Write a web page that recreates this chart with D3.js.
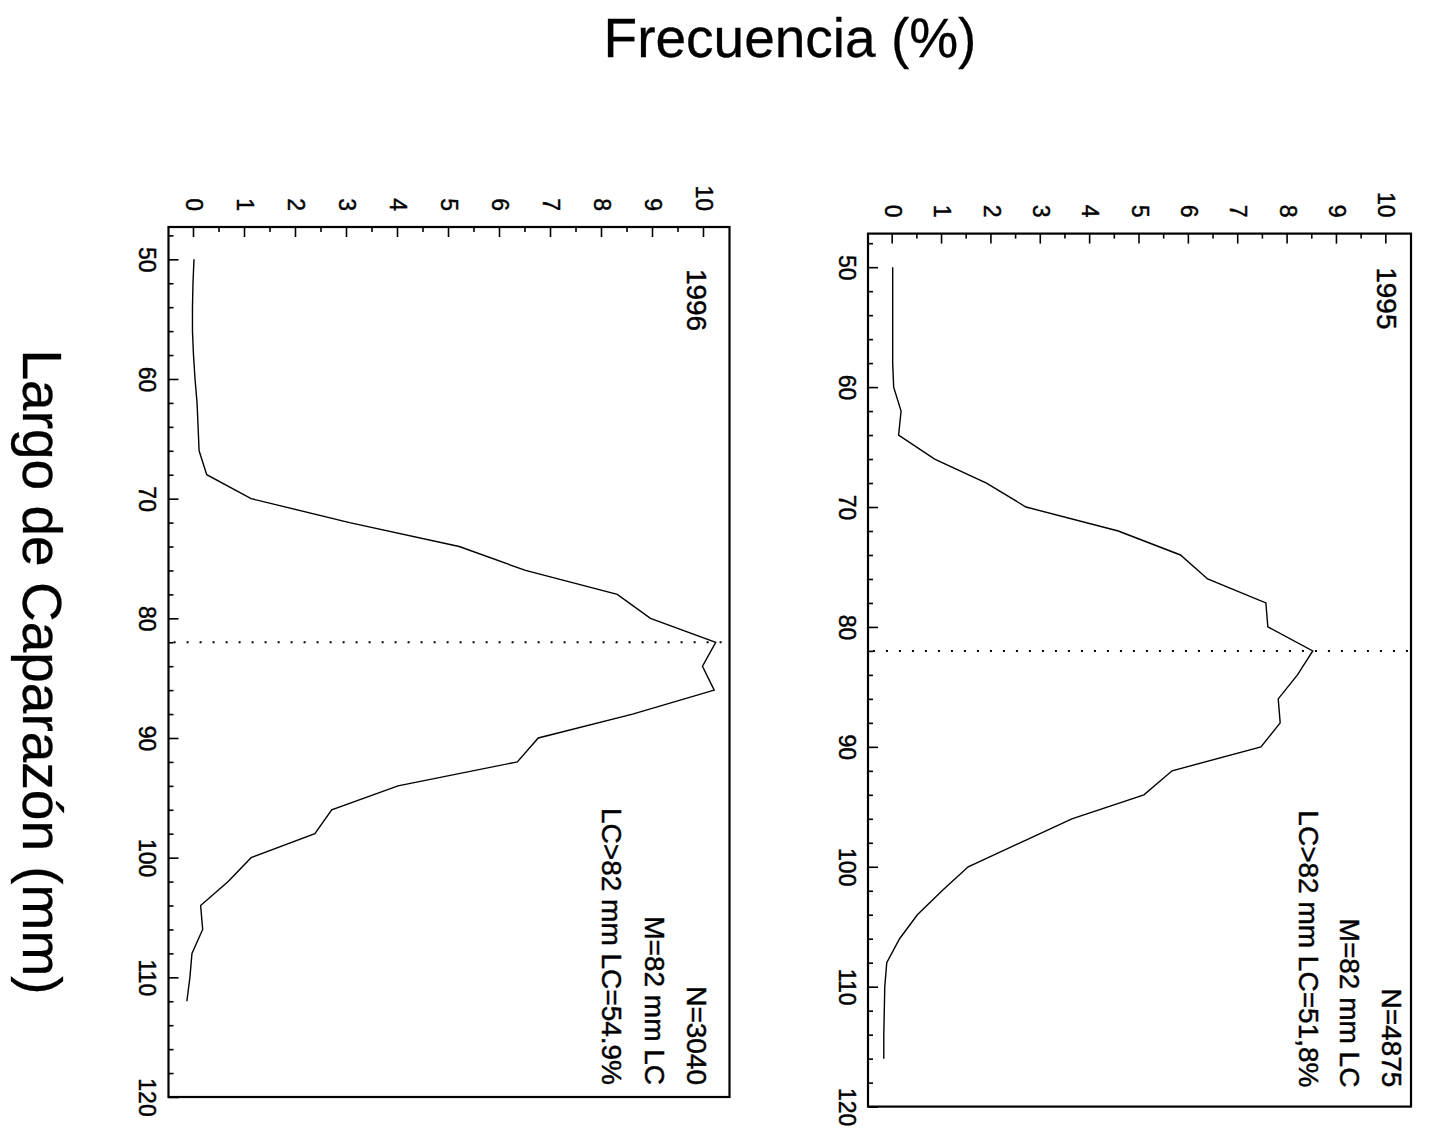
<!DOCTYPE html>
<html>
<head>
<meta charset="utf-8">
<script src="https://cdn.jsdelivr.net/npm/d3@7"></script>
<style>
  body { margin: 0; background: #fff; }
  svg { display: block; }
  text { font-family: "Liberation Sans", Arial, Helvetica, sans-serif; fill: #000; stroke: #000; stroke-width: 0.45px; }
</style>
</head>
<body>
<svg id="chart" width="1438" height="1132"></svg>
<script>
// Carapace-length frequency distributions (% of catch per 2 mm class)
const years = ["1995", "1996"];

const lengths1995 = [50, 52, 54, 56, 58, 60, 62, 64, 66, 68, 70, 72, 74, 76, 78, 80, 82,
                     84, 86, 88, 90, 92, 94, 96, 98, 100, 102, 104, 106, 108, 110, 112, 114, 116];
const freq1995 = [0.00, 0.00, 0.00, 0.00, 0.00, 0.02, 0.17, 0.12, 0.85, 1.90, 2.70, 4.57, 5.83, 6.38, 7.56, 7.60, 8.51,
                  8.20, 7.81, 7.85, 7.46, 5.66, 5.09, 3.63, 2.58, 1.53, 1.00, 0.50, 0.14, -0.12, -0.16, -0.17, -0.18, -0.18];

const lengths1996 = [50, 52, 54, 56, 58, 60, 62, 64, 66, 68, 70, 72, 74, 76, 78, 80, 82,
                     84, 86, 88, 90, 92, 94, 96, 98, 100, 102, 104, 106, 108, 110, 112];
const freq1996 = [0.00, -0.02, -0.03, -0.03, -0.01, 0.02, 0.06, 0.08, 0.10, 0.25, 1.12, 3.05, 5.20, 6.50, 8.30, 8.95, 10.23,
                  9.97, 10.20, 8.60, 6.75, 6.34, 4.00, 2.70, 2.37, 1.12, 0.67, 0.13, 0.17, -0.04, -0.08, -0.14];

const sampleSizes = ["N=4875", "N=3040"];
const modeTexts = ["M=82 mm LC", "M=82 mm LC"];
const aboveModeTexts = ["LC>82 mm LC=51,8%", "LC>82 mm LC=54.9%"];
const modeLength = 82;

const freqTicks = d3.range(0, 11);
const freqMinorTicks = d3.range(0.5, 10.5, 1);
const lengthTicks = [50, 60, 70, 80, 90, 100, 110, 120];
const lengthMinorTicks = d3.range(48, 120, 2).filter(v => v % 10 !== 0);

const series = [
  { year: years[0], lengths: lengths1995, freq: freq1995 },
  { year: years[1], lengths: lengths1996, freq: freq1996 }
];

// Each panel is laid out as an ordinary chart (length across, frequency up)
// and then turned a quarter turn clockwise.
const layout = [
  { right: 1411, top: 233.6, lenMin: 47.2, lenSpan: 873, freqSpan: 543,
    yearLen: 50.0, yearF: 10.0, endLen: 118.4, textF: [10.1, 9.25, 8.43] },
  { right: 729.5, top: 227, lenMin: 47.3, lenSpan: 870, freqSpan: 561,
    yearLen: 50.8, yearF: 9.86, endLen: 119.0, textF: [9.86, 9.02, 8.18] }
];

const svg = d3.select("#chart");

series.forEach((s, i) => {
  const L = layout[i];
  const W = L.lenSpan, H = L.freqSpan;
  const x = d3.scaleLinear().domain([L.lenMin, 120]).range([0, W]);
  const y = d3.scaleLinear().domain([-0.5, 10.5]).range([H, 0]);

  const g = svg.append("g")
    .attr("transform", `translate(${L.right},${L.top}) rotate(90)`);

  // frame
  g.append("rect")
    .attr("x", 0).attr("y", 0).attr("width", W).attr("height", H)
    .attr("fill", "none").attr("stroke", "#000").attr("stroke-width", 2.2);

  // frequency axis (major + minor ticks, pointing inward)
  g.append("g")
    .call(d3.axisLeft(y).tickValues(freqTicks).tickSizeInner(-10).tickSizeOuter(0).tickPadding(16));
  g.append("g")
    .call(d3.axisLeft(y).tickValues(freqMinorTicks).tickSizeInner(-5).tickSizeOuter(0).tickFormat(""));

  // length axis
  g.append("g").attr("transform", `translate(0,${H})`)
    .call(d3.axisBottom(x).tickValues(lengthTicks).tickSizeInner(-10).tickSizeOuter(0).tickPadding(13));
  g.append("g").attr("transform", `translate(0,${H})`)
    .call(d3.axisBottom(x).tickValues(lengthMinorTicks).tickSizeInner(-5).tickSizeOuter(0).tickFormat(""));

  g.selectAll(".domain").remove();
  g.selectAll(".tick line").attr("stroke", "#000").attr("stroke-width", 1.6);
  g.selectAll(".tick text").attr("font-size", 23).attr("fill", "#000")
    .style("font-family", '"Liberation Sans", Arial, sans-serif');

  // mode reference line
  g.append("line")
    .attr("x1", x(modeLength)).attr("x2", x(modeLength))
    .attr("y1", y(-0.4)).attr("y2", y(10.5))
    .attr("stroke", "#000").attr("stroke-width", 2)
    .attr("stroke-dasharray", "2 11");

  // distribution curve
  const pts = s.lengths.map((len, k) => ({ len, f: s.freq[k] }));
  g.append("path")
    .datum(pts)
    .attr("fill", "none").attr("stroke", "#000").attr("stroke-width", 1.4)
    .attr("stroke-linejoin", "miter")
    .attr("d", d3.line().x(d => x(d.len)).y(d => y(d.f)));

  // year label
  g.append("text")
    .attr("x", x(L.yearLen)).attr("y", y(L.yearF))
    .attr("dominant-baseline", "central")
    .attr("font-size", 28)
    .text(s.year);

  // annotations
  [sampleSizes[i], modeTexts[i], aboveModeTexts[i]].forEach((t, k) => {
    g.append("text")
      .attr("x", x(L.endLen)).attr("y", y(L.textF[k]))
      .attr("text-anchor", "end")
      .attr("dominant-baseline", "central")
      .attr("font-size", 28)
      .text(t);
  });
});

// shared axis titles
svg.append("text")
  .attr("x", 790).attr("y", 57)
  .attr("text-anchor", "middle")
  .attr("font-size", 55)
  .style("stroke-width", "0.3px")
  .text("Frecuencia (%)");

svg.append("text")
  .attr("transform", "translate(23,672) rotate(90)")
  .attr("text-anchor", "middle")
  .attr("font-size", 55)
  .style("stroke-width", "0.3px")
  .text("Largo de Caparazón (mm)");
</script>
</body>
</html>
